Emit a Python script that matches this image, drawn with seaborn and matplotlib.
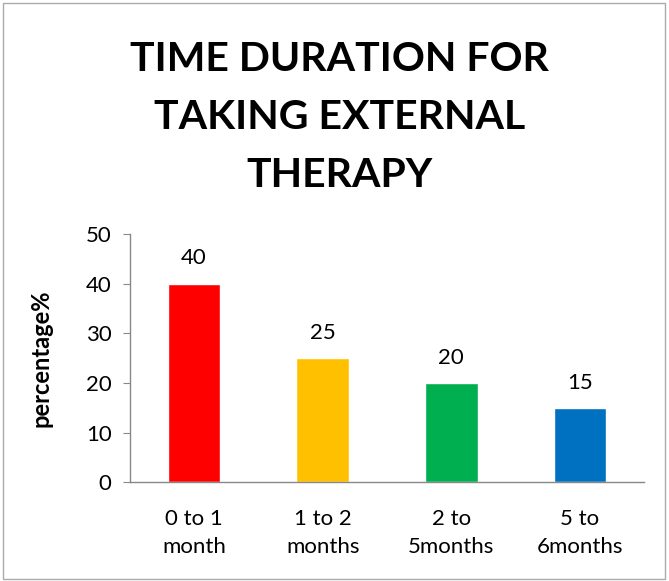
import matplotlib
matplotlib.use('Agg')
from matplotlib import pyplot as plt
from matplotlib.patches import Rectangle
import seaborn as sns
import pandas as pd

# chart data
categories = ['0 to 1\nmonth', '1 to 2\nmonths', '2 to\n5months', '5 to\n6months']
percentages = [40, 25, 20, 15]
bar_colors = ['#FF0000', '#FFC000', '#00B050', '#0070C0']

sns.set_style('white')
plt.rcParams['font.family'] = ['Lato', 'DejaVu Sans']
plt.rcParams['text.color'] = 'black'
plt.rcParams['xtick.color'] = 'black'
plt.rcParams['ytick.color'] = 'black'
plt.rcParams['axes.labelcolor'] = 'black'

df = pd.DataFrame({'duration': categories, 'percentage': percentages})

fig = plt.figure(figsize=(6.69, 5.81), dpi=100)
ax = fig.add_axes([0.194, 0.170, 0.769, 0.427])

sns.barplot(data=df, x='duration', y='percentage', hue='duration',
            palette=bar_colors, width=0.41, legend=False, ax=ax, saturation=1)

for c in ax.containers:
    ax.bar_label(c, fmt='%d', padding=11, fontsize=16)

ax.set_xlim(-0.5, 3.5)
ax.set_ylim(0, 50)
ax.set_yticks(range(0, 51, 10))
ax.tick_params(axis='y', which='both', left=True, length=5, color='#888888',
               labelsize=16, pad=8)
ax.tick_params(axis='x', length=0, labelsize=16, pad=19)
for lbl in ax.get_xticklabels():
    lbl.set_linespacing(1.5)
ax.set_xlabel('')
ax.set_ylabel('percentage%', fontsize=17, fontweight='bold', labelpad=24)

for side in ['top', 'right']:
    ax.spines[side].set_visible(False)
for side in ['left', 'bottom']:
    ax.spines[side].set_color('#888888')
    ax.spines[side].set_linewidth(1)

fig.text(0.508, 0.93, 'TIME DURATION FOR\nTAKING EXTERNAL\nTHERAPY', ha='center', va='top',
         fontsize=29.5, fontweight='bold', linespacing=1.7)

# outer border of chart area
fig.patches.append(Rectangle((0.004, 0.004), 0.99, 0.99, transform=fig.transFigure,
                             fill=False, edgecolor='#AAAAAA', linewidth=1))

fig.savefig('out.png', dpi=100)
